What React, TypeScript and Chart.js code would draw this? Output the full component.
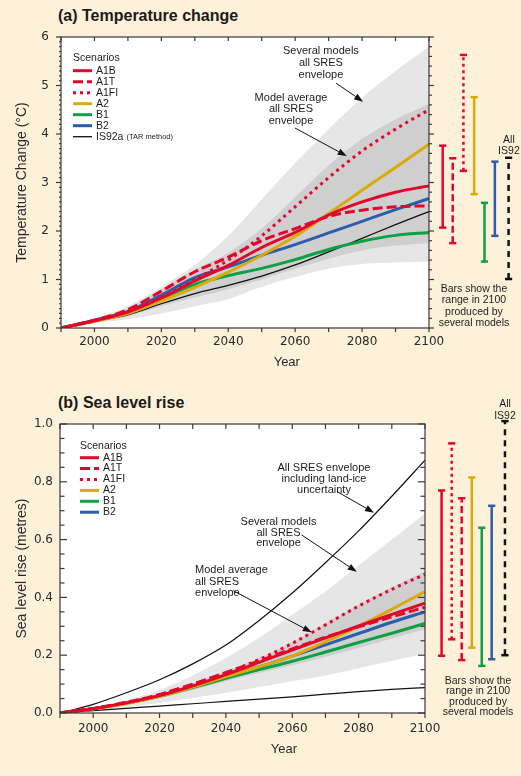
import { useEffect, useRef } from 'react';
import { Chart, registerables } from 'chart.js';

Chart.register(...registerables);

// ---------- shared ----------
const years = [1990, 2000, 2010, 2020, 2030, 2040, 2050, 2060, 2070, 2080, 2090, 2100];
const tickYears = [1990, 2000, 2010, 2020, 2030, 2040, 2050, 2060, 2070, 2080, 2090, 2100];
const labelledYears = [2000, 2020, 2040, 2060, 2080, 2100];

// ---------- (a) Temperature change (°C) ----------
const tempA1B = [0, 0.15, 0.33, 0.62, 0.97, 1.29, 1.66, 1.97, 2.33, 2.6, 2.8, 2.93];
const tempA1T = [0, 0.16, 0.38, 0.76, 1.16, 1.46, 1.8, 2.05, 2.3, 2.43, 2.5, 2.52];
const tempA1FI = [0, 0.15, 0.34, 0.63, 1.0, 1.4, 1.9, 2.5, 3.1, 3.65, 4.1, 4.5];
const tempA2 = [0, 0.14, 0.3, 0.56, 0.84, 1.15, 1.5, 1.89, 2.36, 2.84, 3.31, 3.79];
const tempB1 = [0, 0.15, 0.32, 0.61, 0.9, 1.08, 1.23, 1.41, 1.62, 1.79, 1.91, 1.97];
const tempB2 = [0, 0.16, 0.34, 0.68, 1.04, 1.26, 1.5, 1.72, 1.96, 2.2, 2.44, 2.67];
const tempIS92a = [0, 0.14, 0.27, 0.5, 0.71, 0.88, 1.07, 1.3, 1.57, 1.85, 2.13, 2.4];
const tempSeveralHigh = [0, 0.2, 0.45, 0.85, 1.3, 1.9, 2.65, 3.4, 4.1, 4.75, 5.3, 5.8];
const tempSeveralLow = [0, 0.1, 0.18, 0.3, 0.45, 0.6, 0.85, 1.05, 1.22, 1.32, 1.35, 1.37];
const tempAverageHigh = [0, 0.17, 0.4, 0.8, 1.2, 1.55, 2.05, 2.7, 3.35, 3.9, 4.3, 4.62];
const tempAverageLow = [0, 0.13, 0.25, 0.45, 0.63, 0.8, 1.0, 1.22, 1.43, 1.6, 1.7, 1.75];
const tempBarNames = ['A1B', 'A1T', 'A1FI', 'A2', 'B1', 'B2', 'IS92'];
const tempBarLow = [2.07, 1.75, 3.24, 2.76, 1.37, 1.9, 1.01];
const tempBarHigh = [3.76, 3.5, 5.63, 4.76, 2.58, 3.43, 3.51];
const tempBarSlots = [2104.1, 2107.1, 2110.3, 2113.5, 2116.6, 2119.7, 2123.8];
const tempTicks = [0, 1, 2, 3, 4, 5, 6];
const tempTickLabels = ['0', '1', '2', '3', '4', '5', '6'];

// ---------- (b) Sea level rise (metres) ----------
const seaA1B = [0, 0.015, 0.035, 0.06, 0.094, 0.133, 0.175, 0.218, 0.26, 0.301, 0.341, 0.38];
const seaA1T = [0, 0.016, 0.037, 0.064, 0.1, 0.14, 0.18, 0.222, 0.262, 0.298, 0.333, 0.366];
const seaA1FI = [0, 0.015, 0.036, 0.063, 0.098, 0.138, 0.185, 0.241, 0.305, 0.37, 0.428, 0.48];
const seaA2 = [0, 0.014, 0.033, 0.058, 0.09, 0.126, 0.16, 0.197, 0.247, 0.3, 0.359, 0.42];
const seaB1 = [0, 0.015, 0.034, 0.058, 0.088, 0.12, 0.15, 0.179, 0.211, 0.244, 0.276, 0.31];
const seaB2 = [0, 0.015, 0.035, 0.06, 0.091, 0.127, 0.16, 0.197, 0.236, 0.275, 0.314, 0.35];
const seaLandIceHigh = [0, 0.03, 0.07, 0.115, 0.17, 0.235, 0.32, 0.415, 0.52, 0.63, 0.75, 0.875];
const seaLandIceLow = [0, 0.008, 0.016, 0.024, 0.032, 0.04, 0.048, 0.056, 0.065, 0.074, 0.082, 0.088];
const seaSeveralHigh = [0, 0.02, 0.045, 0.08, 0.13, 0.19, 0.26, 0.34, 0.42, 0.51, 0.6, 0.69];
const seaSeveralLow = [0, 0.008, 0.02, 0.035, 0.052, 0.07, 0.09, 0.11, 0.13, 0.155, 0.18, 0.205];
const seaAverageHigh = [0, 0.016, 0.038, 0.067, 0.103, 0.145, 0.19, 0.245, 0.31, 0.375, 0.435, 0.49];
const seaAverageLow = [0, 0.013, 0.03, 0.052, 0.08, 0.11, 0.138, 0.165, 0.195, 0.225, 0.258, 0.29];
const seaBarNames = ['A1B', 'A1FI', 'A1T', 'A2', 'B1', 'B2', 'IS92'];
const seaBarLow = [0.198, 0.255, 0.183, 0.226, 0.163, 0.186, 0.2];
const seaBarHigh = [0.77, 0.933, 0.743, 0.815, 0.641, 0.717, 1.01];
const seaBarSlots = [2105.0, 2108.05, 2111.06, 2114.1, 2117.1, 2120.1, 2124.1];
const seaTicks = [0, 0.2, 0.4, 0.6, 0.8, 1.0];
const seaTickLabels = ['0.0', '0.2', '0.4', '0.6', '0.8', '1.0'];

// ---------- styles ----------
const CREAM = '#fef1d9';
const RED = '#e3062c';
const GOLD = '#dcaa05';
const GREEN = '#0aa043';
const BLUE = '#2c5cab';
const INK = '#1c1c1c';
const AXIS = '#3a3a3a';
const LIGHT = '#e6e6e6';
const DARK = '#cfcfcf';
const SANS = '"Liberation Sans", Arial, sans-serif';
const TICKFONT = '"DejaVu Sans", sans-serif';

const LINE_STYLE: Record<string, { color: string; dash: number[]; width: number }> = {
  A1B: { color: RED, dash: [], width: 3 },
  A1T: { color: RED, dash: [10, 4], width: 3 },
  A1FI: { color: RED, dash: [3, 4], width: 3 },
  A2: { color: GOLD, dash: [], width: 3 },
  B1: { color: GREEN, dash: [], width: 3 },
  B2: { color: BLUE, dash: [], width: 3 },
  IS92a: { color: '#111', dash: [], width: 1.3 },
};
const BAR_STYLE: Record<string, { color: string; dash: number[] }> = {
  A1B: { color: RED, dash: [] },
  A1T: { color: RED, dash: [7, 3.5] },
  A1FI: { color: RED, dash: [3, 3.5] },
  A2: { color: GOLD, dash: [] },
  B1: { color: GREEN, dash: [] },
  B2: { color: BLUE, dash: [] },
  IS92: { color: '#111', dash: [6, 5] },
};

type Note = { lines: string[]; x: number; y: number; gap: number; align?: CanvasTextAlign; size?: number };
type Arrow = { from: [number, number]; to: [number, number] };
type Side = { minor: number; major: number; minorLen: number; majorLen: number; out: boolean };

interface Panel {
  id: string;
  lines: { name: string; label: string; suffix?: string; values: number[] }[];
  extraLines: number[][];
  avg: [number[], number[]];
  several: [number[], number[]];
  bars: { names: string[]; low: number[]; high: number[]; slots: number[] };
  yMin: number;
  yMax: number;
  yTicks: number[];
  yTickLabels: string[];
  yTitle: string;
  padding: { top: number; left: number; right: number; bottom: number };
  yWidth: number;
  xHeight: number;
  yLabelPad: number;
  xLabelPad: number;
  yTitlePad: number;
  xTickTop: number;
  xTickBottom: number;
  leftSide: Side;
  rightSide: Side;
  notes: Note[];
  arrows: Arrow[];
  legend: { dx: number; dy: number; first: number; gap: number };
}

const panelA: Panel = {
  id: 'a',
  lines: [
    { name: 'A1B', label: 'A1B', values: tempA1B },
    { name: 'A1T', label: 'A1T', values: tempA1T },
    { name: 'A1FI', label: 'A1FI', values: tempA1FI },
    { name: 'A2', label: 'A2', values: tempA2 },
    { name: 'B1', label: 'B1', values: tempB1 },
    { name: 'B2', label: 'B2', values: tempB2 },
    { name: 'IS92a', label: 'IS92a', suffix: '(TAR method)', values: tempIS92a },
  ],
  extraLines: [],
  avg: [tempAverageHigh, tempAverageLow],
  several: [tempSeveralHigh, tempSeveralLow],
  bars: { names: tempBarNames, low: tempBarLow, high: tempBarHigh, slots: tempBarSlots },
  yMin: 0,
  yMax: 6,
  yTicks: tempTicks,
  yTickLabels: tempTickLabels,
  yTitle: 'Temperature Change (°C)',
  padding: { top: 37, left: 8, right: 8.4, bottom: 15.2 },
  yWidth: 53,
  xHeight: 41.8,
  yLabelPad: 12,
  xLabelPad: 6.2,
  yTitlePad: 5.6,
  xTickTop: 4,
  xTickBottom: 4,
  leftSide: { minor: 0.1, major: 1, minorLen: 2, majorLen: 5, out: true },
  rightSide: { minor: 0.2, major: 1, minorLen: 3, majorLen: 5, out: true },
  notes: [
    { lines: ['Several models', 'all SRES', 'envelope'], x: 2067.7, y: 5.72, gap: 12.2 },
    { lines: ['Model average', 'all SRES', 'envelope'], x: 2058.75, y: 4.742, gap: 11.4 },
    { lines: ['All', 'IS92'], x: 2123.9, y: 3.876, gap: 10.8, size: 10.5 },
    { lines: ['Bars show the', 'range in 2100', 'produced by', 'several models'], x: 2113.45, y: 0.804, gap: 11.4, size: 10.5 },
  ],
  arrows: [
    { from: [2072.2, 5.05], to: [2080.3, 4.667] },
    { from: [2059.95, 4.124], to: [2075.4, 3.546] },
  ],
  legend: { dx: 12, dy: 21.3, first: 33.7, gap: 11 },
};

const panelB: Panel = {
  id: 'b',
  lines: [
    { name: 'A1B', label: 'A1B', values: seaA1B },
    { name: 'A1T', label: 'A1T', values: seaA1T },
    { name: 'A1FI', label: 'A1FI', values: seaA1FI },
    { name: 'A2', label: 'A2', values: seaA2 },
    { name: 'B1', label: 'B1', values: seaB1 },
    { name: 'B2', label: 'B2', values: seaB2 },
  ],
  extraLines: [seaLandIceHigh, seaLandIceLow],
  avg: [seaAverageHigh, seaAverageLow],
  several: [seaSeveralHigh, seaSeveralLow],
  bars: { names: seaBarNames, low: seaBarLow, high: seaBarHigh, slots: seaBarSlots },
  yMin: 0,
  yMax: 1,
  yTicks: seaTicks,
  yTickLabels: seaTickLabels,
  yTitle: 'Sea level rise (metres)',
  padding: { top: 39, left: 8, right: 13.05, bottom: 18.7 },
  yWidth: 52,
  xHeight: 44.3,
  yLabelPad: 7,
  xLabelPad: 8.7,
  yTitlePad: 5.6,
  xTickTop: 5,
  xTickBottom: 5,
  leftSide: { minor: 0.05, major: 0.2, minorLen: 4.5, majorLen: 7, out: false },
  rightSide: { minor: 0.05, major: 0.2, minorLen: 4.5, majorLen: 7, out: false },
  notes: [
    { lines: ['All SRES envelope', 'including land-ice', 'uncertainty'], x: 2069.56, y: 0.8478, gap: 11 },
    { lines: ['Several models', 'all SRES', 'envelope'], x: 2055.85, y: 0.662, gap: 10.8 },
    { lines: ['Model average', 'all SRES', 'envelope'], x: 2030.69, y: 0.4948, gap: 11.6, align: 'left' },
    { lines: ['All', 'IS92'], x: 2124.1, y: 1.069, gap: 12, size: 10.5 },
    { lines: ['Bars show the', 'range in 2100', 'produced by', 'several models'], x: 2115.97, y: 0.1118, gap: 10.5, size: 10.5 },
  ],
  arrows: [
    { from: [2073.57, 0.7657], to: [2084.63, 0.6931] },
    { from: [2062.84, 0.6159], to: [2079.42, 0.4889] },
    { from: [2042.23, 0.4232], to: [2065.86, 0.2792] },
  ],
  legend: { dx: 20, dy: 21.7, first: 33.7, gap: 10.9 },
};

const pts = (vals: number[]) => years.map((x, i) => ({ x, y: vals[i] }));

function makePlugin(p: Panel) {
  return {
    id: 'panel_' + p.id,
    beforeDraw(chart: any) {
      const { ctx, chartArea: ca } = chart;
      const xr = chart.scales.x.getPixelForValue(2100);
      ctx.save();
      ctx.fillStyle = '#ffffff';
      ctx.fillRect(ca.left, ca.top, xr - ca.left, ca.bottom - ca.top);
      ctx.restore();
    },
    afterDatasetsDraw(chart: any) {
      const { ctx, chartArea: ca } = chart;
      const x = chart.scales.x;
      const y = chart.scales.y;
      const xr = x.getPixelForValue(2100);
      ctx.save();
      ctx.strokeStyle = AXIS;
      ctx.lineWidth = 1.2;
      ctx.setLineDash([]);
      const seg = (x1: number, y1: number, x2: number, y2: number) => {
        ctx.beginPath();
        ctx.moveTo(x1, y1);
        ctx.lineTo(x2, y2);
        ctx.stroke();
      };
      ctx.strokeRect(ca.left, ca.top, xr - ca.left, ca.bottom - ca.top);
      for (const yr of tickYears) {
        const px = x.getPixelForValue(yr);
        seg(px, ca.top, px, ca.top + p.xTickTop);
        seg(px, ca.bottom, px, ca.bottom + p.xTickBottom);
      }
      const side = (xp: number, dir: number, s: Side) => {
        const n = Math.round((p.yMax - p.yMin) / s.minor);
        const ratio = Math.round(s.major / s.minor);
        for (let k = 0; k <= n; k++) {
          const py = y.getPixelForValue(p.yMin + k * s.minor);
          const len = k % ratio === 0 ? s.majorLen : s.minorLen;
          seg(xp, py, xp + dir * len, py);
        }
      };
      side(ca.left, p.leftSide.out ? -1 : 1, p.leftSide);
      side(xr, p.rightSide.out ? 1 : -1, p.rightSide);
      ctx.restore();
    },
    afterDraw(chart: any) {
      const { ctx, chartArea: ca } = chart;
      const x = chart.scales.x;
      const y = chart.scales.y;
      ctx.save();
      ctx.fillStyle = INK;
      ctx.textBaseline = 'middle';
      for (const n of p.notes) {
        ctx.font = `${n.size ?? 11}px ${SANS}`;
        ctx.textAlign = n.align ?? 'center';
        const px = x.getPixelForValue(n.x);
        const py = y.getPixelForValue(n.y);
        n.lines.forEach((t, i) => ctx.fillText(t, px, py + i * n.gap));
      }
      ctx.strokeStyle = '#111';
      ctx.lineWidth = 1;
      for (const a of p.arrows) {
        const x1 = x.getPixelForValue(a.from[0]);
        const y1 = y.getPixelForValue(a.from[1]);
        const x2 = x.getPixelForValue(a.to[0]);
        const y2 = y.getPixelForValue(a.to[1]);
        const ang = Math.atan2(y2 - y1, x2 - x1);
        const L = 9;
        const W = 3.3;
        const bx = x2 - L * Math.cos(ang);
        const by = y2 - L * Math.sin(ang);
        ctx.beginPath();
        ctx.moveTo(x1, y1);
        ctx.lineTo(bx, by);
        ctx.stroke();
        ctx.beginPath();
        ctx.moveTo(x2, y2);
        ctx.lineTo(bx + W * Math.sin(ang), by - W * Math.cos(ang));
        ctx.lineTo(bx - W * Math.sin(ang), by + W * Math.cos(ang));
        ctx.closePath();
        ctx.fillStyle = '#111';
        ctx.fill();
      }
      // legend
      const lx = ca.left + p.legend.dx;
      ctx.fillStyle = INK;
      ctx.textAlign = 'left';
      ctx.font = `10.5px ${SANS}`;
      ctx.fillText('Scenarios', lx, ca.top + p.legend.dy);
      p.lines.forEach((l, i) => {
        const st = LINE_STYLE[l.name];
        const yy = ca.top + p.legend.first + i * p.legend.gap;
        ctx.strokeStyle = st.color;
        ctx.lineWidth = st.width;
        ctx.setLineDash(st.dash);
        ctx.beginPath();
        ctx.moveTo(lx, yy);
        ctx.lineTo(lx + 19, yy);
        ctx.stroke();
        ctx.setLineDash([]);
        ctx.font = `10.5px ${SANS}`;
        ctx.fillStyle = INK;
        ctx.fillText(l.label, lx + 23, yy);
        if (l.suffix) {
          const w = ctx.measureText(l.label).width;
          ctx.font = `7.5px ${SANS}`;
          ctx.fillText(l.suffix, lx + 23 + w + 3, yy + 0.5);
        }
      });
      ctx.restore();
    },
  };
}

function buildConfig(p: Panel): any {
  const datasets: any[] = [];
  p.bars.names.forEach((name, i) => {
    const st = BAR_STYLE[name];
    datasets.push({
      type: 'line',
      label: 'range ' + name,
      data: [
        { x: p.bars.slots[i], y: p.bars.low[i] },
        { x: p.bars.slots[i], y: p.bars.high[i] },
      ],
      borderColor: st.color,
      borderWidth: 2.5,
      borderDash: st.dash,
      borderCapStyle: 'butt',
      pointStyle: 'line',
      pointRadius: 3.6,
      pointBorderWidth: 2.5,
      pointBorderColor: st.color,
      pointBackgroundColor: st.color,
      tension: 0,
      fill: false,
      clip: false,
      order: 0,
    });
  });
  p.lines.forEach((l) => {
    const st = LINE_STYLE[l.name];
    datasets.push({
      type: 'line',
      label: l.label,
      data: pts(l.values),
      borderColor: st.color,
      borderWidth: st.width,
      borderDash: st.dash,
      borderCapStyle: 'butt',
      pointRadius: 0,
      cubicInterpolationMode: 'monotone',
      fill: false,
      order: 1,
    });
  });
  p.extraLines.forEach((vals, i) => {
    datasets.push({
      type: 'line',
      label: 'land-ice ' + i,
      data: pts(vals),
      borderColor: '#111',
      borderWidth: 1.2,
      pointRadius: 0,
      cubicInterpolationMode: 'monotone',
      fill: false,
      order: 2,
    });
  });
  const env = (vals: number[], fill: any, color: string, order: number, label: string) => ({
    type: 'line',
    label,
    data: pts(vals),
    borderColor: 'rgba(0,0,0,0)',
    borderWidth: 0,
    backgroundColor: color,
    pointRadius: 0,
    cubicInterpolationMode: 'monotone',
    fill,
    order,
  });
  datasets.push(env(p.avg[0], '+1', DARK, 5, 'Model average all SRES envelope'));
  datasets.push(env(p.avg[1], false, DARK, 5, 'avg low'));
  datasets.push(env(p.several[0], '+1', LIGHT, 6, 'Several models all SRES envelope'));
  datasets.push(env(p.several[1], false, LIGHT, 6, 'several low'));

  return {
    type: 'line',
    data: { datasets },
    options: {
      responsive: false,
      animation: false,
      devicePixelRatio: 1,
      events: [],
      layout: { padding: p.padding },
      plugins: { legend: { display: false }, tooltip: { enabled: false }, title: { display: false } },
      scales: {
        x: {
          type: 'linear',
          min: 1990,
          max: 2125,
          afterBuildTicks: (s: any) => {
            s.ticks = tickYears.map((v) => ({ value: v }));
          },
          afterFit: (s: any) => {
            s.height = p.xHeight;
          },
          grid: { display: false, drawTicks: false },
          border: { display: false },
          ticks: {
            autoSkip: false,
            maxRotation: 0,
            padding: p.xLabelPad,
            color: '#2a2a2a',
            font: { family: TICKFONT, size: 12 },
            callback: (v: any) => (labelledYears.includes(Number(v)) ? String(v) : ''),
          },
          title: {
            display: true,
            text: 'Year',
            color: '#2a2a2a',
            font: { family: SANS, size: 13 },
            padding: { top: 0, bottom: 0 },
          },
        },
        y: {
          type: 'linear',
          min: p.yMin,
          max: p.yMax,
          afterBuildTicks: (s: any) => {
            s.ticks = p.yTicks.map((v) => ({ value: v }));
          },
          afterFit: (s: any) => {
            s.width = p.yWidth;
          },
          grid: { display: false, drawTicks: false },
          border: { display: false },
          ticks: {
            padding: p.yLabelPad,
            color: '#2a2a2a',
            font: { family: TICKFONT, size: 12 },
            callback: (_v: any, i: number) => p.yTickLabels[i],
          },
          title: {
            display: true,
            text: p.yTitle,
            color: '#2a2a2a',
            font: { family: SANS, size: 14 },
            padding: { top: p.yTitlePad, bottom: 0 },
          },
        },
      },
    },
    plugins: [makePlugin(p)],
  };
}

export default function App() {
  const topRef = useRef<HTMLCanvasElement>(null);
  const botRef = useRef<HTMLCanvasElement>(null);
  useEffect(() => {
    const a = new Chart(topRef.current as HTMLCanvasElement, buildConfig(panelA));
    const b = new Chart(botRef.current as HTMLCanvasElement, buildConfig(panelB));
    return () => {
      a.destroy();
      b.destroy();
    };
  }, []);
  const titleStyle: any = {
    position: 'absolute',
    left: 58,
    font: `bold 16px ${SANS}`,
    lineHeight: '20px',
    color: '#1a1a1a',
    whiteSpace: 'nowrap',
    margin: 0,
  };
  return (
    <div
      style={{
        position: 'fixed',
        left: 0,
        top: 0,
        width: 521,
        height: 776,
        background: CREAM,
        overflow: 'hidden',
      }}
    >
      <div style={{ ...titleStyle, top: 6.4 }}>(a) Temperature change</div>
      <canvas ref={topRef} width={521} height={385} style={{ position: 'absolute', left: 0, top: 0 }} />
      <div style={{ ...titleStyle, top: 393.4 }}>(b) Sea level rise</div>
      <canvas ref={botRef} width={521} height={391} style={{ position: 'absolute', left: 0, top: 385 }} />
    </div>
  );
}
